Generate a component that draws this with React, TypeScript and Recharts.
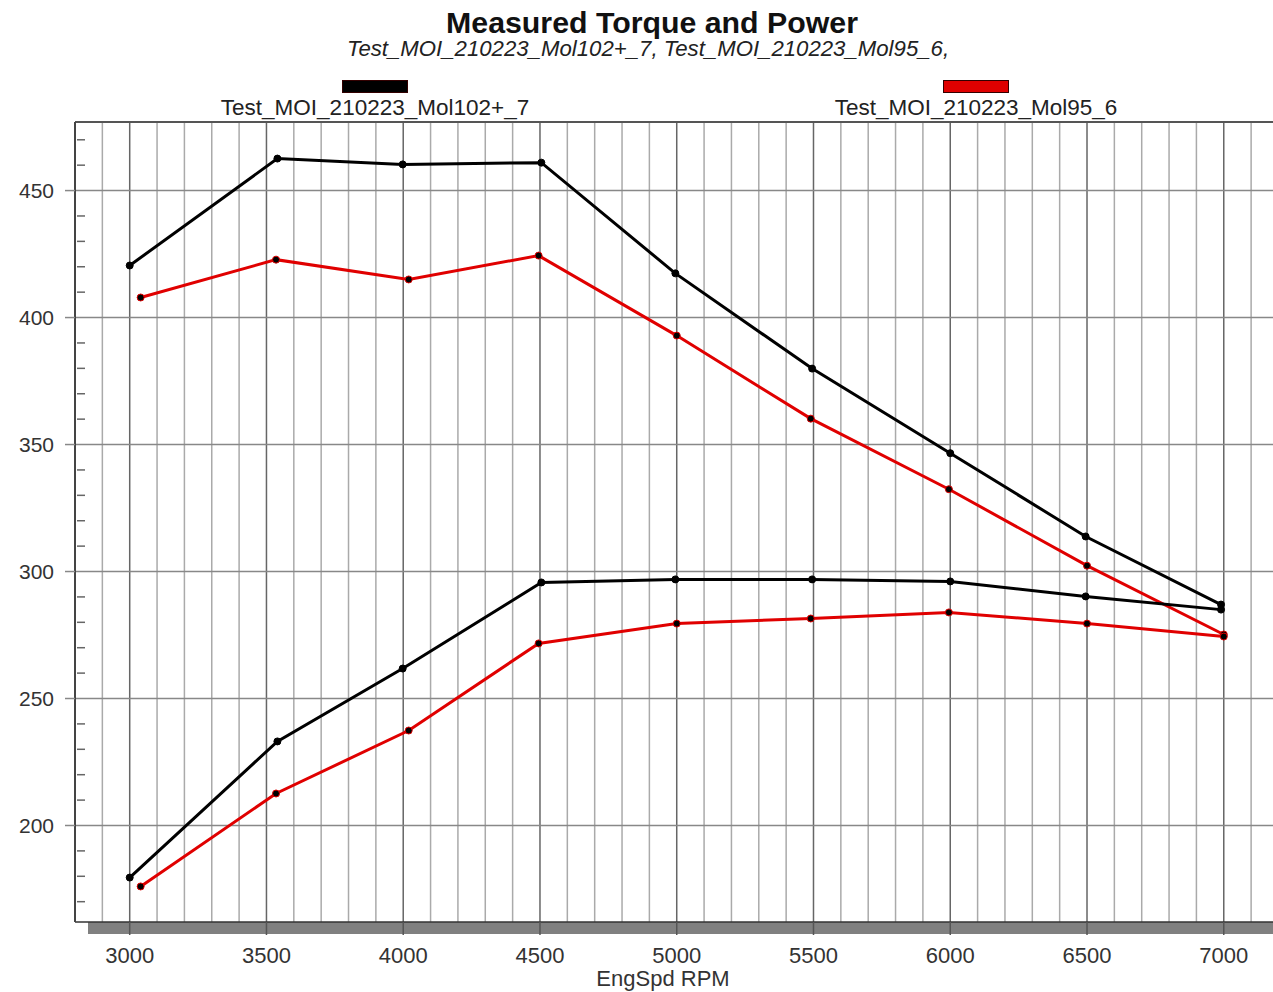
import { LineChart, Line, XAxis, YAxis, ReferenceLine } from "recharts";

const FONT = "'Liberation Sans', Arial, sans-serif";

const runNames = ["Test_MOI_210223_Mol102+_7", "Test_MOI_210223_Mol95_6"];
const runColors = ["#000000", "#e00000"];

// engine speed per run (the two runs were logged at slightly different rpm)
const blackRpm = [3000, 3540, 3998, 4505, 4995, 5495, 6000, 6495, 6990];
const redRpm = [3040, 3535, 4020, 4495, 5000, 5490, 5995, 6500, 7000];

const blackTorque = [420.5, 462.6, 460.3, 461.0, 417.4, 379.9, 346.6, 313.8, 287.0];
const redTorque = [407.9, 422.8, 415.0, 424.4, 392.9, 360.2, 332.4, 302.3, 275.2];
const blackPower = [179.5, 233.1, 261.8, 295.7, 296.9, 296.9, 296.1, 290.2, 285.0];
const redPower = [176.0, 212.6, 237.4, 271.7, 279.5, 281.5, 283.9, 279.5, 274.4];

const xTicks = [3000, 3500, 4000, 4500, 5000, 5500, 6000, 6500, 7000];
const yMajor = [200, 250, 300, 350, 400, 450];
const xDomain = [2800, 7180];
const yDomain = [162, 477];

const minorX = Array.from({ length: 44 }, (_, i) => 2800 + i * 100).filter((v) => v % 500 !== 0);
const yTicks = Array.from({ length: 31 }, (_, i) => 170 + i * 10);

const pts = (rpm: number[], vals: number[]) => rpm.map((r, i) => ({ rpm: r, v: vals[i] }));

const YTick = (props: any) => {
  const { x, y, payload } = props;
  const v = payload.value;
  if (v % 50 !== 0) {
    return <line x1={x + 2} x2={x + 10} y1={y} y2={y} stroke="#666" strokeWidth={1.5} />;
  }
  return (
    <g>
      <line x1={x - 10} x2={x} y1={y} y2={y} stroke="#888" strokeWidth={1.5} />
      <text x={x - 21} y={y} dy="0.36em" textAnchor="end" fontSize={21} fill="#333" fontFamily={FONT}>
        {v}
      </text>
    </g>
  );
};

export default function App() {
  const series = [
    { data: pts(redRpm, redTorque), color: runColors[1] },
    { data: pts(redRpm, redPower), color: runColors[1] },
    { data: pts(blackRpm, blackTorque), color: runColors[0] },
    { data: pts(blackRpm, blackPower), color: runColors[0] }
  ];
  const legendX = [375, 976];

  return (
    <div style={{ position: "absolute", left: 0, top: 0, width: 1273, height: 992, fontFamily: FONT, background: "#fff", overflow: "hidden" }}>
      <div style={{ position: "absolute", left: 0, width: 1304, top: 6, textAlign: "center", fontSize: 30.3, lineHeight: "34px", fontWeight: "bold", color: "#111" }}>
        Measured Torque and Power
      </div>
      <div style={{ position: "absolute", left: 0, width: 1296, top: 37, textAlign: "center", fontSize: 22.2, lineHeight: "24px", fontStyle: "italic", color: "#222" }}>
        {runNames.join(", ") + ","}
      </div>
      {runNames.map((name, i) => (
        <div key={name}>
          <div style={{ position: "absolute", left: legendX[i] - 33, top: 80, width: 64, height: 11, background: runColors[i], border: "1px solid #300" }} />
          <div style={{ position: "absolute", left: legendX[i] - 200, width: 400, top: 95, textAlign: "center", fontSize: 22.5, lineHeight: "26px", color: "#222" }}>
            {name}
          </div>
        </div>
      ))}
      <div style={{ position: "absolute", left: 88, top: 922, width: 1185, height: 12, background: "#808080" }} />
      <div style={{ position: "absolute", left: 0, top: 0 }}>
        <LineChart width={1273} height={992} margin={{ top: 122, right: 0, left: 0, bottom: 0 }}>
          <XAxis
            dataKey="rpm"
            type="number"
            domain={xDomain}
            ticks={xTicks}
            allowDataOverflow
            height={70}
            tickSize={13}
            tickMargin={12}
            tickLine={{ stroke: "#555", strokeWidth: 1.5 }}
            axisLine={{ stroke: "#333", strokeWidth: 1.5 }}
            tick={{ fontSize: 22, fill: "#333", fontFamily: FONT }}
            label={{ value: "EngSpd RPM", position: "insideBottom", offset: 6, dx: -11, fontSize: 22, fill: "#333", fontFamily: FONT }}
          />
          <YAxis
            type="number"
            domain={yDomain}
            ticks={yTicks}
            interval={0}
            allowDataOverflow
            width={75}
            tickSize={0}
            tickMargin={0}
            tickLine={false}
            axisLine={{ stroke: "#444", strokeWidth: 2 }}
            tick={<YTick />}
          />
          {minorX.map((v) => (
            <ReferenceLine key={"m" + v} x={v} stroke="#aaa" strokeWidth={1.5} />
          ))}
          {xTicks.map((v) => (
            <ReferenceLine key={"M" + v} x={v} stroke="#666" strokeWidth={1.5} />
          ))}
          {yMajor.map((v) => (
            <ReferenceLine key={"h" + v} y={v} stroke="#888" strokeWidth={1.5} />
          ))}
          <ReferenceLine y={yDomain[1]} stroke="#555" strokeWidth={2} />
          {series.map((s, i) => (
            <Line
              key={i}
              data={s.data}
              dataKey="v"
              type="linear"
              stroke={s.color}
              strokeWidth={3}
              dot={{ r: 3.5, fill: "#000", stroke: s.color, strokeWidth: 1 }}
              isAnimationActive={false}
            />
          ))}
        </LineChart>
      </div>
    </div>
  );
}
